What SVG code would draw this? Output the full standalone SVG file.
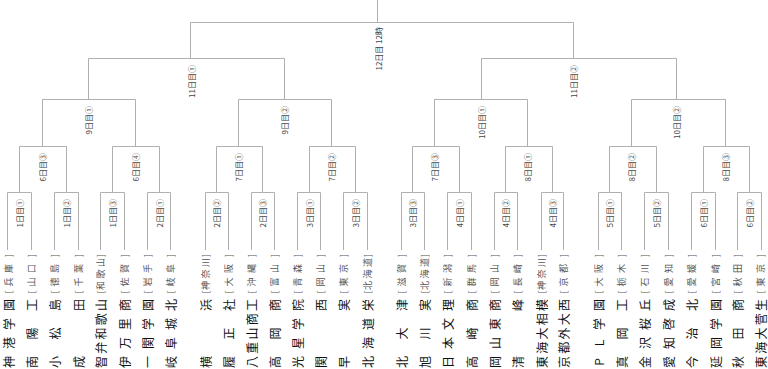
<svg xmlns="http://www.w3.org/2000/svg" width="768" height="369" viewBox="0 0 768 369">
<style>
.ln{stroke:#b0b0b0;stroke-width:1;fill:none}
.nm{font-family:"Noto Sans CJK JP","Noto Sans CJK SC",sans-serif;font-size:12px;fill:#111;text-anchor:middle;dominant-baseline:central}
.pf{font-family:"Noto Sans CJK JP","Noto Sans CJK SC",sans-serif;font-size:9px;fill:#555;text-anchor:middle;dominant-baseline:central}
.lb{font-family:"Noto Sans CJK JP","Noto Sans CJK SC",sans-serif;font-size:8px;fill:#444;text-anchor:end;dominant-baseline:central}
</style>
<rect width="768" height="369" fill="#fff"/>
<g id="connectors" class="ln">
<path d="M377.5 0V22.5M190.5 22.5H573.5M190.5 22.5V58.5M573.5 22.5V58.5"/>
<path d="M88.5 58.5H284.5M481.5 58.5H676.5M88.5 58.5V99.5M284.5 58.5V99.5M481.5 58.5V99.5M676.5 58.5V99.5"/>
<path d="M42.5 99.5H135.5M238.5 99.5H331.5M434.5 99.5H527.5M631.5 99.5H725.5M42.5 99.5V146.5M135.5 99.5V146.5M238.5 99.5V146.5M331.5 99.5V146.5M434.5 99.5V146.5M527.5 99.5V146.5M631.5 99.5V146.5M725.5 99.5V146.5"/>
<path d="M19.5 146.5H66.5M112.5 146.5H159.5M216.5 146.5H262.5M309.5 146.5H355.5M412.5 146.5H459.5M505.5 146.5H552.5M609.5 146.5H656.5M703.5 146.5H749.5M19.5 146.5V192.5M66.5 146.5V192.5M112.5 146.5V192.5M159.5 146.5V192.5M216.5 146.5V192.5M262.5 146.5V192.5M309.5 146.5V192.5M355.5 146.5V192.5M412.5 146.5V192.5M459.5 146.5V192.5M505.5 146.5V192.5M552.5 146.5V192.5M609.5 146.5V192.5M656.5 146.5V192.5M703.5 146.5V192.5M749.5 146.5V192.5"/>
<path d="M7.5 192.5H31.5M54.5 192.5H78.5M100.5 192.5H124.5M147.5 192.5H170.5M205.5 192.5H228.5M251.5 192.5H274.5M297.5 192.5H320.5M343.5 192.5H367.5M401.5 192.5H424.5M447.5 192.5H471.5M494.5 192.5H517.5M541.5 192.5H563.5M598.5 192.5H621.5M644.5 192.5H668.5M691.5 192.5H715.5M737.5 192.5H761.5"/>
<path d="M7.5 192.5V250M31.5 192.5V250M54.5 192.5V250M78.5 192.5V250M100.5 192.5V250M124.5 192.5V250M147.5 192.5V250M170.5 192.5V250M205.5 192.5V250M228.5 192.5V250M251.5 192.5V250M274.5 192.5V250M297.5 192.5V250M320.5 192.5V250M343.5 192.5V250M367.5 192.5V250M401.5 192.5V250M424.5 192.5V250M447.5 192.5V250M471.5 192.5V250M494.5 192.5V250M517.5 192.5V250M541.5 192.5V250M563.5 192.5V250M598.5 192.5V250M621.5 192.5V250M644.5 192.5V250M668.5 192.5V250M691.5 192.5V250M715.5 192.5V250M737.5 192.5V250M761.5 192.5V250"/>
</g>
<g id="labels">
<text class="lb" transform="translate(378,27) rotate(-90)">12日目 12時</text>
<text class="lb" transform="translate(191.5,65) rotate(-90)">11日目①</text>
<text class="lb" transform="translate(573.5,65) rotate(-90)">11日目②</text>
<text class="lb" transform="translate(88.5,106) rotate(-90)">9日目①</text>
<text class="lb" transform="translate(284.5,106) rotate(-90)">9日目②</text>
<text class="lb" transform="translate(481.5,106) rotate(-90)">10日目①</text>
<text class="lb" transform="translate(676.5,106) rotate(-90)">10日目②</text>
<text class="lb" transform="translate(42.5,153) rotate(-90)">6日目③</text>
<text class="lb" transform="translate(135.5,153) rotate(-90)">6日目④</text>
<text class="lb" transform="translate(238.5,153) rotate(-90)">7日目①</text>
<text class="lb" transform="translate(331.5,153) rotate(-90)">7日目②</text>
<text class="lb" transform="translate(434.5,153) rotate(-90)">7日目③</text>
<text class="lb" transform="translate(527.5,153) rotate(-90)">8日目①</text>
<text class="lb" transform="translate(631.5,153) rotate(-90)">8日目②</text>
<text class="lb" transform="translate(725.5,153) rotate(-90)">8日目③</text>
<text class="lb" transform="translate(19.5,199) rotate(-90)">1日目①</text>
<text class="lb" transform="translate(66.5,199) rotate(-90)">1日目②</text>
<text class="lb" transform="translate(112.5,199) rotate(-90)">1日目③</text>
<text class="lb" transform="translate(159.5,199) rotate(-90)">2日目①</text>
<text class="lb" transform="translate(216.5,199) rotate(-90)">2日目②</text>
<text class="lb" transform="translate(262.5,199) rotate(-90)">2日目③</text>
<text class="lb" transform="translate(309.5,199) rotate(-90)">3日目①</text>
<text class="lb" transform="translate(355.5,199) rotate(-90)">3日目②</text>
<text class="lb" transform="translate(412.5,199) rotate(-90)">3日目③</text>
<text class="lb" transform="translate(459.5,199) rotate(-90)">4日目①</text>
<text class="lb" transform="translate(505.5,199) rotate(-90)">4日目②</text>
<text class="lb" transform="translate(552.5,199) rotate(-90)">4日目③</text>
<text class="lb" transform="translate(609.5,199) rotate(-90)">5日目①</text>
<text class="lb" transform="translate(656.5,199) rotate(-90)">5日目②</text>
<text class="lb" transform="translate(703.5,199) rotate(-90)">6日目①</text>
<text class="lb" transform="translate(749.5,199) rotate(-90)">6日目②</text>
</g>
<g id="t01" transform="translate(8.5,0) rotate(-90)"><text class="nm" x="-362 -343 -324 -305" y="0">神港学園</text><text class="pf" x="-292 -282 -268.5 -255.5" y="0">[兵庫]</text></g>
<g id="t02" transform="translate(31.5,0) rotate(-90)"><text class="nm" x="-362 -333.5 -305" y="0">南陽工</text><text class="pf" x="-292 -282 -268.5 -255.5" y="0">[山口]</text></g>
<g id="t03" transform="translate(54.5,0) rotate(-90)"><text class="nm" x="-362 -333.5 -305" y="0">小松島</text><text class="pf" x="-292 -282 -268.5 -255.5" y="0">[徳島]</text></g>
<g id="t04" transform="translate(78.5,0) rotate(-90)"><text class="nm" x="-362 -305" y="0">成田</text><text class="pf" x="-292 -282 -268.5 -255.5" y="0">[千葉]</text></g>
<g id="t05" transform="translate(100.5,0) rotate(-90)"><text class="nm" x="-362 -347.75 -333.5 -319.25 -305" y="0">智弁和歌山</text><text class="pf" x="-292 -285.5 -274 -262.5 -255.5" y="0">[和歌山]</text></g>
<g id="t06" transform="translate(124.5,0) rotate(-90)"><text class="nm" x="-362 -343 -324 -305" y="0">伊万里商</text><text class="pf" x="-292 -282 -268.5 -255.5" y="0">[佐賀]</text></g>
<g id="t07" transform="translate(147.5,0) rotate(-90)"><text class="nm" x="-362 -343 -324 -305" y="0">一関学園</text><text class="pf" x="-292 -282 -268.5 -255.5" y="0">[岩手]</text></g>
<g id="t08" transform="translate(170.5,0) rotate(-90)"><text class="nm" x="-362 -343 -324 -305" y="0">岐阜城北</text><text class="pf" x="-292 -282 -268.5 -255.5" y="0">[岐阜]</text></g>
<g id="t09" transform="translate(205.5,0) rotate(-90)"><text class="nm" x="-362 -305" y="0">横浜</text><text class="pf" x="-292 -285.5 -274 -262.5 -255.5" y="0">[神奈川]</text></g>
<g id="t10" transform="translate(228.5,0) rotate(-90)"><text class="nm" x="-362 -333.5 -305" y="0">履正社</text><text class="pf" x="-292 -282 -268.5 -255.5" y="0">[大阪]</text></g>
<g id="t11" transform="translate(251.5,0) rotate(-90)"><text class="nm" x="-362 -347.75 -333.5 -319.25 -305" y="0">八重山商工</text><text class="pf" x="-292 -282 -268.5 -255.5" y="0">[沖縄]</text></g>
<g id="t12" transform="translate(274.5,0) rotate(-90)"><text class="nm" x="-362 -333.5 -305" y="0">高岡商</text><text class="pf" x="-292 -282 -268.5 -255.5" y="0">[富山]</text></g>
<g id="t13" transform="translate(297.5,0) rotate(-90)"><text class="nm" x="-362 -343 -324 -305" y="0">光星学院</text><text class="pf" x="-292 -282 -268.5 -255.5" y="0">[青森]</text></g>
<g id="t14" transform="translate(320.5,0) rotate(-90)"><text class="nm" x="-362 -305" y="0">関西</text><text class="pf" x="-292 -282 -268.5 -255.5" y="0">[岡山]</text></g>
<g id="t15" transform="translate(343.5,0) rotate(-90)"><text class="nm" x="-362 -305" y="0">早実</text><text class="pf" x="-292 -282 -268.5 -255.5" y="0">[東京]</text></g>
<g id="t16" transform="translate(367.5,0) rotate(-90)"><text class="nm" x="-362 -343 -324 -305" y="0">北海道栄</text><text class="pf" x="-292 -285.5 -274 -262.5 -255.5" y="0">[北海道]</text></g>
<g id="t17" transform="translate(401.5,0) rotate(-90)"><text class="nm" x="-362 -333.5 -305" y="0">北大津</text><text class="pf" x="-292 -282 -268.5 -255.5" y="0">[滋賀]</text></g>
<g id="t18" transform="translate(424.5,0) rotate(-90)"><text class="nm" x="-362 -333.5 -305" y="0">旭川実</text><text class="pf" x="-292 -285.5 -274 -262.5 -255.5" y="0">[北海道]</text></g>
<g id="t19" transform="translate(447.5,0) rotate(-90)"><text class="nm" x="-362 -343 -324 -305" y="0">日本文理</text><text class="pf" x="-292 -282 -268.5 -255.5" y="0">[新潟]</text></g>
<g id="t20" transform="translate(471.5,0) rotate(-90)"><text class="nm" x="-362 -333.5 -305" y="0">高崎商</text><text class="pf" x="-292 -282 -268.5 -255.5" y="0">[群馬]</text></g>
<g id="t21" transform="translate(494.5,0) rotate(-90)"><text class="nm" x="-362 -343 -324 -305" y="0">岡山東商</text><text class="pf" x="-292 -282 -268.5 -255.5" y="0">[岡山]</text></g>
<g id="t22" transform="translate(517.5,0) rotate(-90)"><text class="nm" x="-362 -305" y="0">清峰</text><text class="pf" x="-292 -282 -268.5 -255.5" y="0">[長崎]</text></g>
<g id="t23" transform="translate(541.5,0) rotate(-90)"><text class="nm" x="-362 -347.75 -333.5 -319.25 -305" y="0">東海大相模</text><text class="pf" x="-292 -285.5 -274 -262.5 -255.5" y="0">[神奈川]</text></g>
<g id="t24" transform="translate(563.5,0) rotate(-90)"><text class="nm" x="-362 -347.75 -333.5 -319.25 -305" y="0">京都外大西</text><text class="pf" x="-292 -282 -268.5 -255.5" y="0">[京都]</text></g>
<g id="t25" transform="translate(598.5,0) rotate(-90)"><text class="nm" x="-362 -343 -324 -305" y="0">PL学園</text><text class="pf" x="-292 -282 -268.5 -255.5" y="0">[大阪]</text></g>
<g id="t26" transform="translate(621.5,0) rotate(-90)"><text class="nm" x="-362 -333.5 -305" y="0">真岡工</text><text class="pf" x="-292 -282 -268.5 -255.5" y="0">[栃木]</text></g>
<g id="t27" transform="translate(644.5,0) rotate(-90)"><text class="nm" x="-362 -343 -324 -305" y="0">金沢桜丘</text><text class="pf" x="-292 -282 -268.5 -255.5" y="0">[石川]</text></g>
<g id="t28" transform="translate(668.5,0) rotate(-90)"><text class="nm" x="-362 -343 -324 -305" y="0">愛知啓成</text><text class="pf" x="-292 -282 -268.5 -255.5" y="0">[愛知]</text></g>
<g id="t29" transform="translate(691.5,0) rotate(-90)"><text class="nm" x="-362 -333.5 -305" y="0">今治北</text><text class="pf" x="-292 -282 -268.5 -255.5" y="0">[愛媛]</text></g>
<g id="t30" transform="translate(715.5,0) rotate(-90)"><text class="nm" x="-362 -343 -324 -305" y="0">延岡学園</text><text class="pf" x="-292 -282 -268.5 -255.5" y="0">[宮崎]</text></g>
<g id="t31" transform="translate(737.5,0) rotate(-90)"><text class="nm" x="-362 -333.5 -305" y="0">秋田商</text><text class="pf" x="-292 -282 -268.5 -255.5" y="0">[秋田]</text></g>
<g id="t32" transform="translate(760.5,0) rotate(-90)"><text class="nm" x="-362 -347.75 -333.5 -319.25 -305" y="0">東海大菅生</text><text class="pf" x="-292 -282 -268.5 -255.5" y="0">[東京]</text></g>
</svg>
